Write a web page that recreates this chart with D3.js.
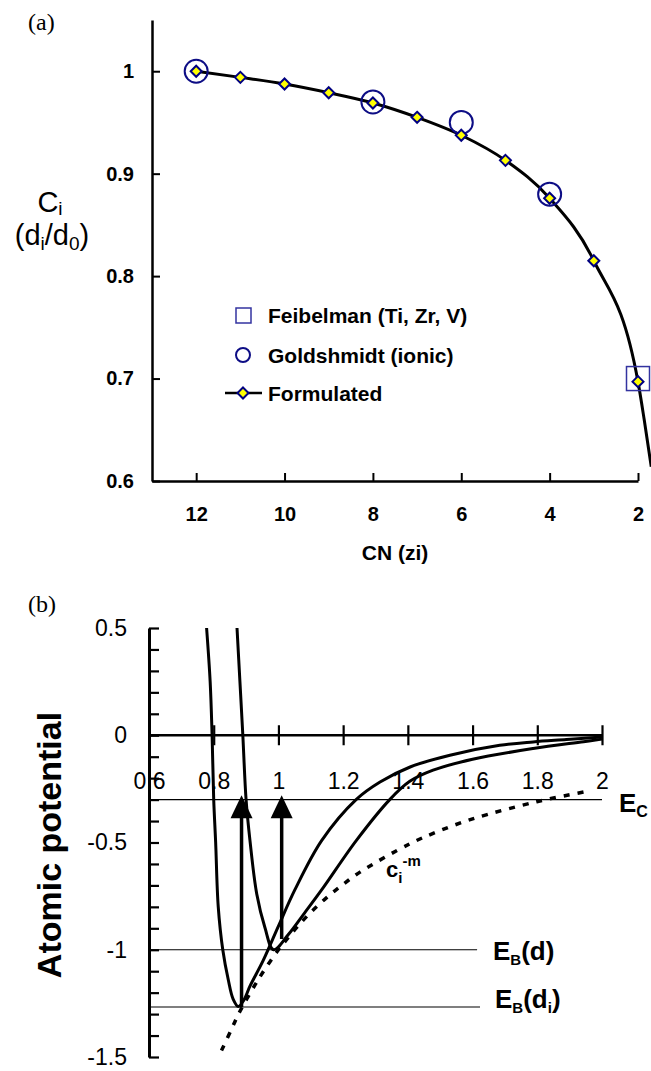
<!DOCTYPE html>
<html><head><meta charset="utf-8">
<script src="https://cdn.jsdelivr.net/npm/d3@7"></script>
<style>body{margin:0;background:#fff}svg{display:block}</style>
</head><body>
<script>
// ---------- Panel (a) data ----------
const cnValues   = [12, 11, 10, 9, 8, 7, 6, 5, 4, 3, 2];
const formulated = [1.000, 0.994, 0.9875, 0.979, 0.969, 0.955, 0.9375, 0.913, 0.876, 0.815, 0.697];
const curveExtCN  = [1.86, 1.70];
const curveExtVal = [0.66, 0.614];
const goldCN  = [12, 8, 6, 4];
const goldVal = [1.0, 0.97, 0.95, 0.88];
const feibCN  = [2];
const feibVal = [0.70];
const xTicksA = [12, 10, 8, 6, 4, 2];
const xTickLabelsA = ["12", "10", "8", "6", "4", "2"];
const yTicksA = [0.6, 0.7, 0.8, 0.9, 1.0];
const yTickLabelsA = ["0.6", "0.7", "0.8", "0.9", "1"];
const legendLabels = ["Feibelman (Ti, Zr, V)", "Goldshmidt (ionic)", "Formulated"];

// ---------- Panel (b) data ----------
const wellDiX = [0.778, 0.789, 0.795, 0.800, 0.806, 0.814, 0.828, 0.845, 0.860, 0.876, 0.893, 0.912, 0.953, 1.000, 1.051, 1.134, 1.240, 1.314, 1.407, 1.530, 1.684, 1.787, 1.890, 2.000];
const wellDiY = [0.5, 0.25, 0, -0.3, -0.5, -0.8, -1.0, -1.14, -1.23, -1.265, -1.235, -1.17, -1.05, -0.89, -0.72, -0.49, -0.30, -0.218, -0.148, -0.093, -0.047, -0.031, -0.02, -0.008];
const wellDX = [0.872, 0.881, 0.890, 0.900, 0.912, 0.933, 0.958, 0.985, 1.030, 1.080, 1.134, 1.241, 1.344, 1.406, 1.478, 1.600, 1.787, 1.943, 2.000];
const wellDY = [0.5, 0.25, 0, -0.3, -0.49, -0.74, -0.895, -1.0, -0.93, -0.83, -0.72, -0.49, -0.30, -0.215, -0.163, -0.112, -0.062, -0.03, -0.018];
const powX = [0.824, 0.855, 0.880, 0.928, 0.952, 1.000, 1.025, 1.056, 1.097, 1.149, 1.200, 1.252, 1.406, 1.489, 1.600, 1.798, 1.952];
const powY = [-1.47, -1.37, -1.29, -1.163, -1.105, -1.0, -0.953, -0.897, -0.83, -0.757, -0.695, -0.638, -0.506, -0.451, -0.39, -0.31, -0.262];
const levelVals = [-0.3, -1.0, -1.267];
const levelEnds = [2.0, 1.614, 1.623];
const arrowX = [0.886, 1.01];
const arrowFrom = [-1.267, -0.95];
const arrowTip = -0.28;
const xTicksB = [0.6, 0.8, 1, 1.2, 1.4, 1.6, 1.8, 2];
const xTickLabelsB = ["0.6", "0.8", "1", "1.2", "1.4", "1.6", "1.8", "2"];
const yTicksB = [0.5, 0, -0.5, -1, -1.5];
const yTickLabelsB = ["0.5", "0", "-0.5", "-1", "-1.5"];

const SANS = "'Liberation Sans', Arial, Helvetica, sans-serif";
const SERIF = "'Liberation Serif', 'Times New Roman', serif";
const NAVY = "#0d0d85";

const svg = d3.select("body").append("svg")
  .attr("width", 651).attr("height", 1071)
  .style("background", "#fff");

// ================= Panel (a) =================
const xA = d3.scaleLinear().domain([13, 2]).range([152, 638]);
const yA = d3.scaleLinear().domain([0.6, 1.05]).range([481, 20]);

svg.append("text").attr("x", 28).attr("y", 30)
  .attr("font-family", SERIF).attr("font-size", 24).text("(a)");

const axYA = svg.append("g").attr("transform", `translate(${xA(13)},0)`)
  .call(d3.axisLeft(yA).tickValues(yTicksA).tickSizeInner(-8).tickSizeOuter(0)
    .tickPadding(18).tickFormat((d, i) => yTickLabelsA[i]));
const axXA = svg.append("g").attr("transform", `translate(0,${yA(0.6)})`)
  .call(d3.axisBottom(xA).tickValues(xTicksA).tickSizeInner(-8).tickSizeOuter(0)
    .tickPadding(26).tickFormat((d, i) => xTickLabelsA[i]));
[axYA, axXA].forEach(g => {
  g.selectAll("path.domain").attr("stroke-width", 2.5);
  g.selectAll(".tick line").attr("stroke-width", 2);
  g.selectAll("text").attr("font-family", SANS).attr("font-size", 20)
    .attr("font-weight", "bold").attr("fill", "#000");
});

svg.append("text").attr("x", 395).attr("y", 560).attr("text-anchor", "middle")
  .attr("font-family", SANS).attr("font-size", 21).attr("font-weight", "bold")
  .text("CN (zi)");

// y label C_i (d_i/d_0)
const ciT = svg.append("text").attr("x", 50).attr("y", 212).attr("text-anchor", "middle")
  .attr("font-family", SANS).attr("font-size", 29);
ciT.append("tspan").text("C");
ciT.append("tspan").attr("font-size", 19).attr("dy", 3).text("i");
const ddT = svg.append("text").attr("x", 52).attr("y", 245).attr("text-anchor", "middle")
  .attr("font-family", SANS).attr("font-size", 29);
ddT.append("tspan").text("(d");
ddT.append("tspan").attr("font-size", 19).attr("dy", 5).text("i");
ddT.append("tspan").attr("dy", -5).text("/d");
ddT.append("tspan").attr("font-size", 19).attr("dy", 5).text("0");
ddT.append("tspan").attr("dy", -5).text(")");

// curve
const curvePts = cnValues.map((c, i) => [c, formulated[i]])
  .concat(curveExtCN.map((c, i) => [c, curveExtVal[i]]));
svg.append("path").datum(curvePts)
  .attr("d", d3.line().x(d => xA(d[0])).y(d => yA(d[1])).curve(d3.curveMonotoneX))
  .attr("fill", "none").attr("stroke", "#000").attr("stroke-width", 3);

// Feibelman squares
svg.selectAll("rect.feib").data(feibCN.map((c, i) => [c, feibVal[i]])).join("rect")
  .attr("x", d => xA(d[0]) - 11.5).attr("y", d => yA(d[1]) - 12)
  .attr("width", 23).attr("height", 24)
  .attr("fill", "none").attr("stroke", "#3333a0").attr("stroke-width", 1.5);
// Goldschmidt circles
svg.selectAll("circle.gold").data(goldCN.map((c, i) => [c, goldVal[i]])).join("circle")
  .attr("cx", d => xA(d[0])).attr("cy", d => yA(d[1])).attr("r", 11.5)
  .attr("fill", "none").attr("stroke", NAVY).attr("stroke-width", 2);
// diamonds
const diamond = s => `M0,${-s}L${s},0L0,${s}L${-s},0Z`;
svg.selectAll("path.dia").data(cnValues.map((c, i) => [c, formulated[i]])).join("path")
  .attr("d", diamond(5.5))
  .attr("transform", d => `translate(${xA(d[0])},${yA(d[1])})`)
  .attr("fill", "#ffff00").attr("stroke", "#000080").attr("stroke-width", 2);

// legend
const lg = svg.append("g");
lg.append("rect").attr("x", 236).attr("y", 308).attr("width", 15).attr("height", 15)
  .attr("fill", "none").attr("stroke", "#3333a0").attr("stroke-width", 1.5);
lg.append("circle").attr("cx", 243).attr("cy", 355).attr("r", 7)
  .attr("fill", "none").attr("stroke", NAVY).attr("stroke-width", 2);
lg.append("line").attr("x1", 225).attr("x2", 262).attr("y1", 393).attr("y2", 393)
  .attr("stroke", "#000").attr("stroke-width", 2.5);
lg.append("path").attr("d", diamond(5.5)).attr("transform", "translate(243,393)")
  .attr("fill", "#ffff00").attr("stroke", "#000080").attr("stroke-width", 2);
lg.selectAll("text").data(legendLabels).join("text")
  .attr("x", 268).attr("y", (d, i) => [315, 355, 393][i]).attr("dy", "0.36em")
  .attr("font-family", SANS).attr("font-size", 21).attr("font-weight", "bold")
  .text(d => d);

// ================= Panel (b) =================
const xB = d3.scaleLinear().domain([0.6, 2]).range([149, 602]);
const yB = d3.scaleLinear().domain([-1.5, 0.5]).range([1057, 628]);

svg.append("text").attr("x", 28).attr("y", 612)
  .attr("font-family", SERIF).attr("font-size", 24).text("(b)");

// x axis at y=0
const axXB = svg.append("g").attr("transform", `translate(0,${yB(0)})`)
  .call(d3.axisBottom(xB).tickValues(xTicksB).tickSize(10).tickPadding(27)
    .tickFormat((d, i) => xTickLabelsB[i]));
axXB.selectAll(".tick line").attr("y1", -10).attr("y2", 10).attr("stroke-width", 2.2);
axXB.select("path.domain").attr("d", `M${xB(0.6)},0H${xB(2)}`).attr("stroke-width", 2.5);
axXB.selectAll("text").attr("font-family", SANS).attr("font-size", 23).attr("fill", "#000");

// level lines
svg.selectAll("line.lvl").data(levelVals).join("line")
  .attr("x1", xB(0.6)).attr("x2", (d, i) => xB(levelEnds[i]))
  .attr("y1", d => yB(d)).attr("y2", d => yB(d))
  .attr("stroke", "#000").attr("stroke-width", 1.2);

// y axis with ticks every 0.1
const yMinor = d3.range(-15, 6).map(d => d / 10);
const axYB = svg.append("g").attr("transform", `translate(${xB(0.6)},0)`)
  .call(d3.axisLeft(yB).tickValues(yMinor).tickSizeInner(-10).tickSizeOuter(0).tickPadding(22)
    .tickFormat(d => { const k = yTicksB.findIndex(v => Math.abs(v - d) < 1e-6); return k >= 0 ? yTickLabelsB[k] : ""; }));
axYB.select("path.domain").attr("stroke-width", 3);
axYB.selectAll(".tick line").attr("stroke-width", 2.2);
axYB.selectAll("text").attr("font-family", SANS).attr("font-size", 23).attr("fill", "#000");

svg.append("text").attr("transform", "translate(61,845) rotate(-90)")
  .attr("text-anchor", "middle").attr("font-family", SANS).attr("font-size", 34)
  .attr("font-weight", "bold").text("Atomic potential");

// curves
const lineB = d3.line().x(d => xB(d[0])).y(d => yB(d[1])).curve(d3.curveCatmullRom.alpha(0.5));
svg.append("path").datum(wellDiX.map((x, i) => [x, wellDiY[i]]))
  .attr("d", lineB).attr("fill", "none").attr("stroke", "#000").attr("stroke-width", 3);
svg.append("path").datum(wellDX.map((x, i) => [x, wellDY[i]]))
  .attr("d", lineB).attr("fill", "none").attr("stroke", "#000").attr("stroke-width", 3);
svg.append("path").datum(powX.map((x, i) => [x, powY[i]]))
  .attr("d", lineB).attr("fill", "none").attr("stroke", "#000").attr("stroke-width", 3.5)
  .attr("stroke-dasharray", "6,8");

// arrows
arrowX.forEach((ax, i) => {
  const px = xB(ax), tip = yB(arrowTip);
  svg.append("line").attr("x1", px).attr("x2", px)
    .attr("y1", yB(arrowFrom[i])).attr("y2", tip + 20)
    .attr("stroke", "#000").attr("stroke-width", 3.5);
  svg.append("path").attr("d", `M${px},${tip}L${px + 11},${tip + 23}L${px - 11},${tip + 23}Z`)
    .attr("fill", "#000");
});

// level labels
const ec = svg.append("text").attr("x", 619).attr("y", 812)
  .attr("font-family", SANS).attr("font-size", 26).attr("font-weight", "bold");
ec.append("tspan").text("E");
ec.append("tspan").attr("font-size", 16).attr("dy", 5).text("C");

const eb = svg.append("text").attr("x", 493).attr("y", 960)
  .attr("font-family", SANS).attr("font-size", 26).attr("font-weight", "bold");
eb.append("tspan").text("E");
eb.append("tspan").attr("font-size", 15).attr("dy", 5).text("B");
eb.append("tspan").attr("dy", -5).text("(d)");

const ebi = svg.append("text").attr("x", 495).attr("y", 1008)
  .attr("font-family", SANS).attr("font-size", 26).attr("font-weight", "bold");
ebi.append("tspan").text("E");
ebi.append("tspan").attr("font-size", 15).attr("dy", 5).text("B");
ebi.append("tspan").attr("dy", -5).text("(d");
ebi.append("tspan").attr("font-size", 15).attr("dy", 5).text("i");
ebi.append("tspan").attr("dy", -5).text(")");

// c_i^-m label
const cm = svg.append("text").attr("x", 386).attr("y", 877)
  .attr("font-family", SANS).attr("font-size", 22).attr("font-weight", "bold");
cm.append("tspan").text("c");
cm.append("tspan").attr("font-size", 15).attr("dy", 6).text("i");
cm.append("tspan").attr("font-size", 15).attr("dy", -17).text("-m");
</script>
</body></html>
